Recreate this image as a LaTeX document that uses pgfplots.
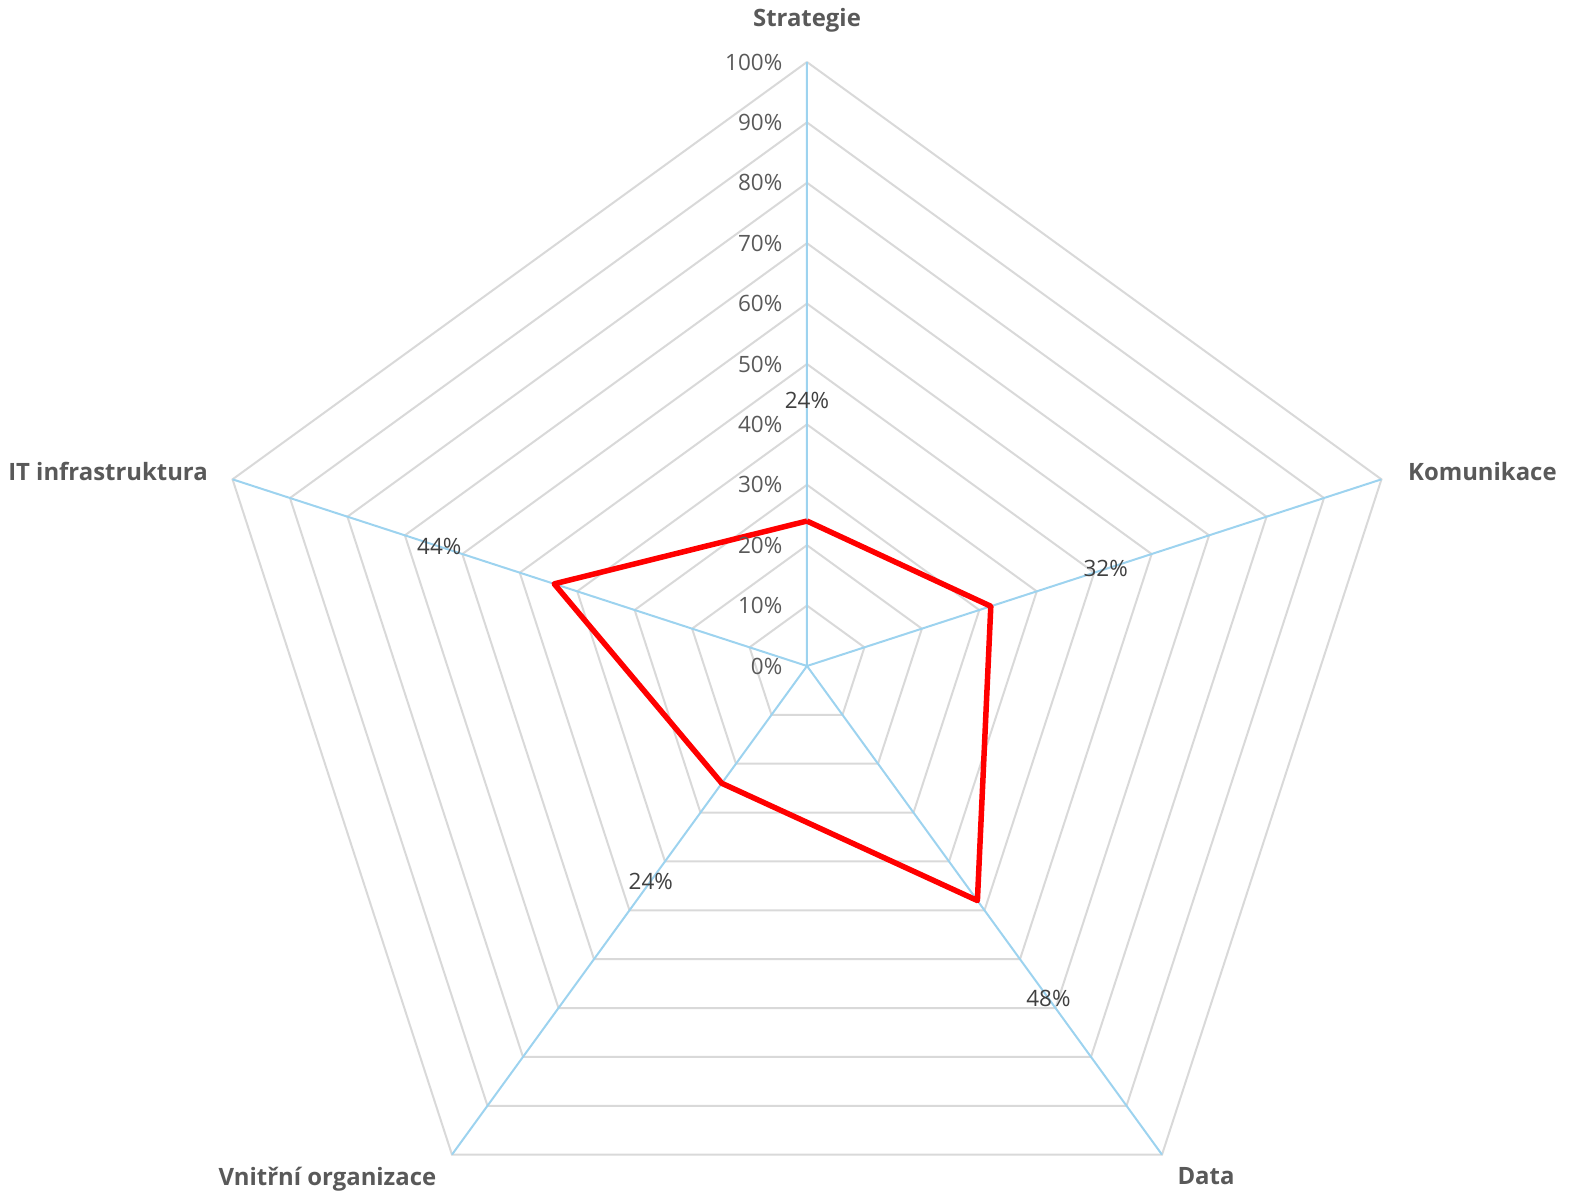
\documentclass[border=0pt]{standalone}
\usepackage{pgfplots}
\pgfplotsset{compat=1.18}
\usepgfplotslibrary{polar}
\usepackage{fontspec}
\setmainfont{Open Sans}
\definecolor{gridgray}{HTML}{D9D9D9}
\definecolor{spoke}{HTML}{9DD3EF}
\definecolor{labgray}{HTML}{595959}
\definecolor{valgray}{HTML}{404040}
\begin{document}
\begin{tikzpicture}
\begin{polaraxis}[
    scale only axis,
    width=120.8mm, height=120.8mm,
    xmin=0, xmax=360, ymin=0, ymax=100,
    hide axis,
    clip=false,
    /pgf/number format/assume math mode=true,
]
\coordinate (c) at (axis cs:0,0);
% pentagon grid
\pgfplotsinvokeforeach{10,20,...,100}{
  \addplot[gridgray, line width=0.2mm, no marks] coordinates {
    (90,#1) (18,#1) (306,#1) (234,#1) (162,#1) (90,#1)};
}
% spokes
\addplot[spoke, line width=0.2mm, no marks] coordinates {
  (90,100) (90,0) (18,100) (18,0) (306,100) (306,0) (234,100) (234,0) (162,100) (162,0)};
% value axis labels
\addplot[draw=none, no marks, point meta=explicit,
  nodes near coords={\pgfmathprintnumber{\pgfplotspointmeta}\%},
  nodes near coords style={anchor=east, xshift=-2.4mm, yshift=0mm, inner sep=0pt,
    font=\fontsize{6.4}{7.5}\selectfont, text=labgray}]
  coordinates {
  (90,0) [0] (90,10) [10] (90,20) [20] (90,30) [30] (90,40) [40] (90,50) [50]
  (90,60) [60] (90,70) [70] (90,80) [80] (90,90) [90] (90,100) [100]};
% data series
\addplot[red, line width=0.55mm, no marks, line join=round] coordinates {
  (90,24) (18,32) (306,48) (234,24) (162,44) (90,24)};
% data labels
\addplot[draw=none, no marks, point meta=explicit,
  nodes near coords={\pgfmathprintnumber{\pgfplotspointmeta}\%},
  nodes near coords style={anchor=center, inner sep=0pt,
    font=\fontsize{6.4}{7.5}\selectfont, text=valgray}]
  coordinates {
  (90,44) [24] (18,52) [32] (306,68) [48] (234,44) [24] (162,64) [44]};
% category labels
\node[anchor=south, inner sep=0pt, yshift=2.9mm, font=\bfseries\fontsize{6.8}{8}\selectfont, text=labgray] at (axis cs:90,100) {Strategie};
\node[anchor=west, inner sep=0pt, xshift=2.6mm, yshift=0.8mm, font=\bfseries\fontsize{6.8}{8}\selectfont, text=labgray] at (axis cs:18,100) {Komunikace};
\node[anchor=east, inner sep=0pt, xshift=-2.4mm, yshift=0.8mm, font=\bfseries\fontsize{6.8}{8}\selectfont, text=labgray] at (axis cs:162,100) {IT infrastruktura};
\node[anchor=north, inner sep=0pt, xshift=4.4mm, yshift=-1.2mm, font=\bfseries\fontsize{6.8}{8}\selectfont, text=labgray] at (axis cs:306,100) {Data};
\node[anchor=north east, inner sep=0pt, xshift=-1.5mm, yshift=-1.2mm, font=\bfseries\fontsize{6.8}{8}\selectfont, text=labgray] at (axis cs:234,100) {Vnitřní organizace};
\end{polaraxis}
\pgfresetboundingbox
\path ([shift={(-80.7mm,-52.9mm)}]c) rectangle ([shift={(76.3mm,66.6mm)}]c);
\end{tikzpicture}
\end{document}
